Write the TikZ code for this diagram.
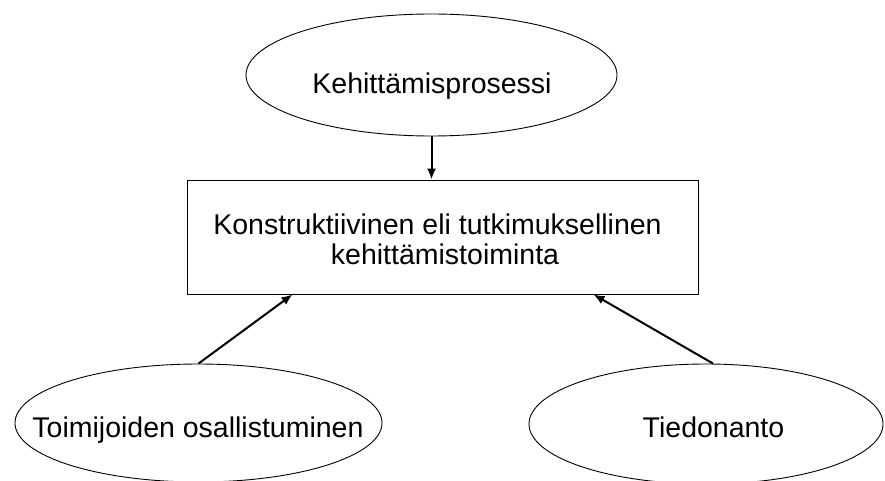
\documentclass[tikz,border=0pt]{standalone}
\usepackage{fontspec}
\setmainfont{Liberation Sans}
\usetikzlibrary{shapes.geometric,arrows.meta,calc}

\tikzset{
  oval/.style={draw=black, line width=0.9pt, ellipse, inner sep=0pt},
  frame/.style={draw=black, line width=0.9pt, rectangle, inner sep=0pt},
  label text/.style={inner sep=0pt, anchor=base, font=\fontsize{28.5}{30}\selectfont},
  arrowline/.style={line width=2pt, -{Latex[length=11pt,width=9pt]}}
}

\begin{document}
\begin{tikzpicture}[x=1pt,y=-1pt]
  \useasboundingbox (0,0) rectangle (885,481);

  % shapes
  \node[oval, minimum width=371pt, minimum height=122pt] (proc) at (431.5,75) {};
  \node[frame, minimum width=511pt, minimum height=114pt] (work) at (442.5,237) {};
  \node[oval, minimum width=367pt, minimum height=118pt] (actors) at (198.5,423) {};
  \node[oval, minimum width=354pt, minimum height=120pt] (info) at (706,424) {};

  % texts
  \node[label text] (proct) at (432,94) {Kehittämisprosessi};
  \node[label text] (workA) at (437.5,234) {Konstruktiivinen eli tutkimuksellinen};
  \node[label text] (workB) at (445,264) {kehittämistoiminta};
  \node[label text] (actorst) at (198,437) {Toimijoiden osallistuminen};
  \node[label text] (infot) at (713.5,437) {Tiedonanto};

  % connectors
  \draw[arrowline] (proc.south) -- (proc.south |- work.north);
  \draw[arrowline] (actors.north) -- ($(work.south west)!0.207!(work.south east)$);
  \draw[arrowline] ($(info.north)+(7,0)$) -- ($(work.south west)!0.795!(work.south east)$);
\end{tikzpicture}
\end{document}
